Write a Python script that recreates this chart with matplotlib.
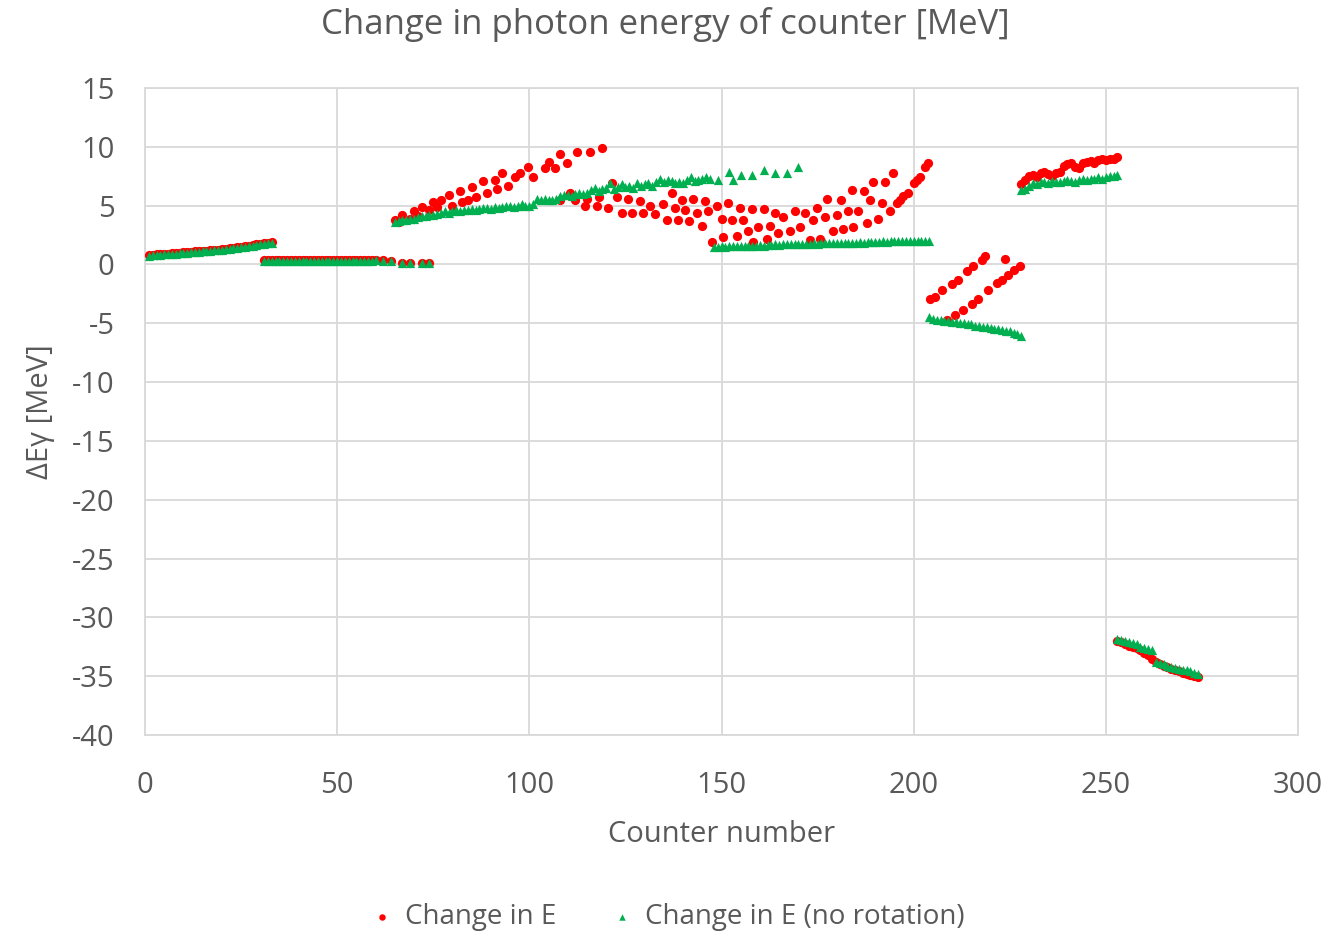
"""Photon energy change per counter, two series (with and without rotation)."""

import matplotlib

matplotlib.use("Agg")
import matplotlib.pyplot as plt
import numpy as np

plt.rcParams["font.family"] = ["Open Sans", "DejaVu Sans"]
plt.rcParams["axes.unicode_minus"] = False

# ---- red series: "Change in E" ----
red_a_x = np.arange(1, 34)
red_a_y = [0.8, 0.82, 0.85, 0.87, 0.9, 0.92, 0.95, 0.97, 1.0, 1.02, 1.05, 1.07,
           1.1, 1.12, 1.15, 1.18, 1.2, 1.23, 1.26, 1.3, 1.33, 1.36, 1.4, 1.45,
           1.5, 1.55, 1.6, 1.65, 1.7, 1.75, 1.8, 1.85, 1.9]

red_b_x = list(range(31, 60)) + [60, 62, 64, 67, 69, 72, 74]
red_b_y = [0.35] * 29 + [0.4, 0.35, 0.3, 0.15, 0.12, 0.1, 0.1]

red_mid_x = [65, 66, 67, 69, 70, 71, 72, 74, 75, 76, 77, 79, 80, 82, 82.5, 84,
             85, 86, 88, 89, 91, 91.5, 93, 94.5, 96.3, 97.6, 99.7, 101, 104,
             105, 106.7, 108, 109.8, 112.4, 115.8, 119,
             108, 110.6, 112, 114.5, 115, 117.6, 118, 120.5, 121.5, 122.8,
             124, 125.7, 126.7, 128.8, 129.6, 131.4, 132.7, 134.8, 135.8, 137,
             138, 138.7, 139.7, 140.5, 141.5, 142.6, 143.6, 145, 145.7, 146.5,
             147.5, 148.8, 150, 150.4, 151.7, 152.7, 154, 154.8, 155.6, 157,
             158, 158.2, 159.5, 161, 161.8, 162.6, 164, 164.7, 166, 167.8, 169,
             170.5, 171.7, 173, 173.8, 174.8, 175.6, 177, 177.5, 179, 180, 181,
             181.6, 183, 184, 184.2, 185.6, 187, 187.8, 188.7, 189.5, 190.7,
             191.8, 192.6, 193.9, 194.7, 195.7, 196.5, 197.3, 198.5, 200,
             200.9, 201.7, 203, 203.7]
red_mid_y = [3.8, 3.6, 4.2, 3.9, 4.5, 4.1, 4.9, 4.6, 5.3, 4.9, 5.5, 5.9, 5.0,
             6.2, 5.3, 5.5, 6.6, 5.7, 7.1, 6.1, 7.2, 6.4, 7.8, 6.7, 7.4, 7.8,
             8.3, 7.4, 8.2, 8.7, 8.2, 9.4, 8.6, 9.6, 9.6, 9.9,
             5.5, 6.1, 5.5, 5.0, 5.6, 5.0, 5.7, 4.8, 6.9, 5.7,
             4.4, 5.6, 4.4, 5.4, 4.4, 5.0, 4.3, 5.1, 3.8, 6.1,
             4.8, 3.8, 5.5, 4.6, 3.7, 5.6, 4.4, 3.3, 5.4, 4.5,
             1.9, 5.0, 3.9, 2.3, 5.2, 3.8, 2.4, 4.8, 3.8, 2.8,
             4.7, 1.9, 3.2, 4.7, 2.2, 3.3, 4.4, 2.7, 4.0, 2.8, 4.5,
             3.2, 4.4, 2.1, 3.8, 4.8, 2.2, 4.0, 5.6, 2.8, 4.2, 5.5,
             3.0, 4.5, 6.3, 3.2, 4.5, 6.2, 3.5, 5.5, 7.0, 3.9,
             5.2, 7.0, 4.5, 7.8, 5.2, 5.5, 5.8, 6.1, 6.9,
             7.2, 7.4, 8.3, 8.6]

red_neg_x = [204.3, 205.6, 207.4, 210, 211.5, 213.9, 215.5, 217.8, 218.6,
             223.8, 208.7, 210.8, 212.8, 215.2, 216.8, 219.4, 221.7, 223,
             224.6, 226, 227.6]
red_neg_y = [-2.9, -2.8, -2.2, -1.7, -1.3, -0.6, -0.1, 0.4, 0.7,
             0.5, -4.7, -4.3, -3.9, -3.4, -2.9, -2.2, -1.6, -1.3,
             -0.9, -0.5, -0.1]

red_c_x = np.arange(228, 254)
red_c_y = [6.8, 7.2, 7.5, 7.6, 7.4, 7.8, 7.9, 7.7, 7.5, 7.8, 7.9, 8.4, 8.5,
           8.6, 8.3, 8.2, 8.6, 8.7, 8.8, 8.6, 8.9, 9.0, 8.9, 9.0, 9.0, 9.1]

red_d_x = np.arange(253, 275)
red_d_y = [-32.0, -32.1, -32.3, -32.4, -32.5, -32.6, -32.8, -33.0, -33.2,
           -33.5, -33.8, -34.0, -34.1, -34.2, -34.4, -34.5, -34.6, -34.7,
           -34.8, -34.9, -35.0, -35.1]

# ---- green series: "Change in E (no rotation)" ----
green_a_x = np.arange(1, 34)
green_a_y = [0.75, 0.77, 0.8, 0.82, 0.85, 0.87, 0.9, 0.92, 0.95, 0.97, 1.0,
             1.02, 1.05, 1.08, 1.1, 1.13, 1.16, 1.19, 1.22, 1.25, 1.28, 1.32,
             1.36, 1.4, 1.45, 1.5, 1.55, 1.6, 1.65, 1.7, 1.75, 1.8, 1.85]

green_b_x = list(range(31, 60)) + [60, 62, 64, 67, 69, 72, 74]
green_b_y = [0.3] * 29 + [0.35, 0.3, 0.25, 0.1, 0.08, 0.08, 0.08]

green_rise_x = list(range(65, 148)) + [149, 152, 153, 155, 158, 161, 164, 167, 170]
green_rise_y = [3.6, 3.7, 3.8, 3.8, 3.9, 3.9, 4.0, 4.1, 4.1, 4.2,
                4.2, 4.3, 4.4, 4.5, 4.4, 4.5, 4.6, 4.5, 4.6, 4.6,
                4.7, 4.6, 4.7, 4.8, 4.8, 4.7, 4.9, 4.8, 4.9, 5.0,
                5.0, 4.9, 5.0, 5.1, 5.0, 5.0, 5.1, 5.6, 5.5, 5.6,
                5.5, 5.5, 5.6, 5.8, 5.9, 5.9, 5.8, 6.0, 6.1, 6.0,
                6.1, 6.3, 6.5, 6.2, 6.4, 6.5, 6.9, 6.4, 6.6, 6.8,
                6.6, 6.7, 6.5, 6.9, 6.7, 6.8, 6.9, 6.7, 7.0, 7.3,
                7.0, 7.2, 7.1, 6.9, 7.0, 6.9, 7.2, 7.4, 7.1, 7.2, 7.3, 7.4, 7.3,
                7.2, 7.9, 7.2, 7.6, 7.6, 8.0, 7.8, 7.8, 8.3]

green_flat_x = np.arange(148, 205)
green_flat_y = [1.5, 1.5, 1.55, 1.5, 1.55, 1.6, 1.55, 1.6, 1.6, 1.55, 1.6,
                1.6, 1.65, 1.6, 1.65, 1.65, 1.7, 1.65, 1.7, 1.7, 1.7, 1.75,
                1.7, 1.75, 1.75, 1.75, 1.8, 1.75, 1.8, 1.8, 1.8, 1.8, 1.85,
                1.8, 1.85, 1.85, 1.85, 1.85, 1.9, 1.85, 1.9, 1.9, 1.9, 1.9,
                1.95, 1.9, 1.95, 1.95, 1.95, 1.95, 2.0, 1.95, 2.0, 2.0, 2.0,
                2.0, 1.95]

green_neg_x = np.arange(204, 229)
green_neg_y = [-4.5, -4.6, -4.7, -4.7, -4.8, -4.8, -4.9, -4.9, -5.0, -5.0,
               -5.1, -5.1, -5.2, -5.2, -5.3, -5.3, -5.4, -5.5, -5.5, -5.6,
               -5.7, -5.7, -5.8, -5.9, -6.1]

green_c_x = np.arange(228, 254)
green_c_y = [6.3, 6.4, 6.7, 6.9, 6.8, 7.0, 7.0, 6.9, 7.1, 7.0, 7.0, 7.1, 7.2,
             7.1, 7.0, 7.2, 7.3, 7.2, 7.3, 7.3, 7.4, 7.3, 7.4, 7.5, 7.5, 7.6]

green_d_x = np.arange(253, 275)
green_d_y = [-31.8, -31.9, -32.0, -32.1, -32.2, -32.3, -32.5, -32.6, -32.7,
             -32.8, -33.8, -33.9, -34.0, -34.1, -34.2, -34.3, -34.4, -34.5,
             -34.5, -34.6, -34.7, -34.8]

RED = "#FF0000"
GREEN = "#00B050"
GRID = "#D9D9D9"
TEXT = "#595959"

red_x = np.concatenate([red_a_x, red_b_x, red_mid_x, red_neg_x, red_c_x, red_d_x])
red_y = np.concatenate([red_a_y, red_b_y, red_mid_y, red_neg_y, red_c_y, red_d_y])
green_x = np.concatenate([green_a_x, green_b_x, green_rise_x, green_flat_x,
                          green_neg_x, green_c_x, green_d_x])
green_y = np.concatenate([green_a_y, green_b_y, green_rise_y, green_flat_y,
                          green_neg_y, green_c_y, green_d_y])

fig = plt.figure(figsize=(13.3, 9.32), dpi=100)
ax = fig.add_axes([0.109, 0.2114, 0.867, 0.6942])

ax.scatter(red_x, red_y, s=44, marker="o", color=RED, linewidths=0,
           label="Change in E", zorder=3)
ax.scatter(green_x, green_y, s=44, marker="^", color=GREEN, linewidths=0,
           label="Change in E (no rotation)", zorder=4)

ax.set_xlim(0, 300)
ax.set_ylim(-40, 15)
ax.set_xticks(np.arange(0, 301, 50))
ax.set_yticks(np.arange(-40, 16, 5))
ax.grid(True, color=GRID, linewidth=1.3)
ax.set_axisbelow(True)
for spine in ax.spines.values():
    spine.set_color(GRID)
    spine.set_linewidth(1.3)
ax.tick_params(length=0, labelsize=21, labelcolor=TEXT)
ax.tick_params(axis="x", pad=26)
ax.tick_params(axis="y", pad=22)

fig.text(0.5, 1 - 25 / 932, "Change in photon energy of counter [MeV]",
         fontsize=25, color=TEXT, ha="center", va="center")
ax.set_xlabel("Counter number", fontsize=21, color=TEXT, labelpad=14)
ax.set_ylabel("ΔEγ [MeV]", fontsize=21, color=TEXT, labelpad=12)

fig.legend(loc="lower center", bbox_to_anchor=(0.5, -0.026), ncol=2,
           frameon=False, fontsize=20, labelcolor=TEXT, markerscale=0.7,
           handletextpad=0.2, handlelength=1.2, columnspacing=1.8)

fig.savefig("out.png", dpi=100)
